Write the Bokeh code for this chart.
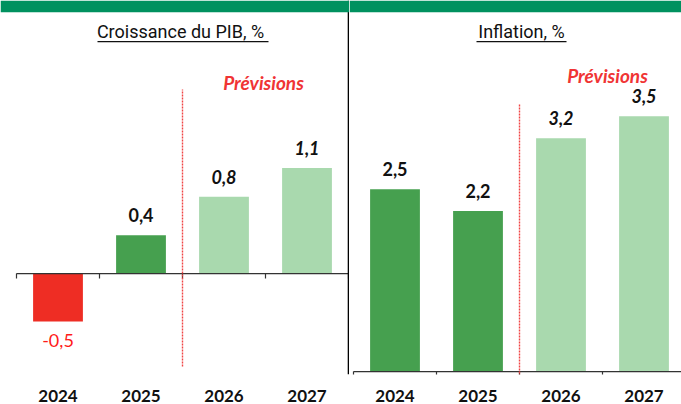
from bokeh.plotting import figure
from bokeh.models import Range1d, FixedTicker, BoxAnnotation, Span, ColumnDataSource
from bokeh.layouts import row
from bokeh.core.properties import value
from bokeh.embed import file_html
from bokeh.resources import INLINE

# ---------------- data ----------------
years = ["2024", "2025", "2026", "2027"]
gdp_growth = [-0.5, 0.4, 0.8, 1.1]
inflation = [2.5, 2.2, 3.2, 3.5]
is_forecast = [False, False, True, True]
title_gdp = "Croissance du PIB, %"
title_infl = "Inflation, %"
forecast_label = "Prévisions"

# ---------------- styles ----------------
RED = "#EE2D24"
DARK_GREEN = "#46A04F"
LIGHT_GREEN = "#A9D9AE"
BAND = "#00915F"
DASH_RED = "#F04545"
FONT = "Lato"
TITLE_FONT = "Roboto"

n = len(years)
centers = [i + 0.5 for i in range(n)]
bounds = list(range(n + 1))
first_fc = is_forecast.index(True)

FIG_H = 404
TOP_PX, BOT_PX = 0, 378
PPC = 83.0  # pixels per category


def bar_colors(vals):
    out = []
    for v, f in zip(vals, is_forecast):
        if f:
            out.append(LIGHT_GREEN)
        elif v < 0:
            out.append(RED)
        else:
            out.append(DARK_GREEN)
    return out


def make_panel(vals, width, ppu, zero_px, x0_px, fig_left_px, title, title_cx_px,
               ul_px, prev_cx_px, prev_base_px, dash_top_px, dash_bot_px, divider):
    yr = Range1d(-(BOT_PX - zero_px) / ppu, (zero_px - TOP_PX) / ppu)
    xr = Range1d((fig_left_px - x0_px) / PPC, (fig_left_px + width - x0_px) / PPC)
    p = figure(width=width, height=FIG_H, x_range=xr, y_range=yr,
               output_backend="svg", toolbar_location=None,
               y_axis_location=None, min_border_left=0, min_border_right=0,
               min_border_top=0, min_border_bottom=FIG_H - BOT_PX)
    p.outline_line_color = None
    p.xgrid.visible = False
    p.ygrid.visible = False
    p.background_fill_color = "white"
    p.border_fill_color = "white"

    ax = p.xaxis[0]
    ax.ticker = FixedTicker(ticks=centers, minor_ticks=[])
    ax.major_label_overrides = {c: y for c, y in zip(centers, years)}
    ax.axis_line_color = None
    ax.major_tick_line_color = None
    ax.minor_tick_line_color = None
    ax.major_label_standoff = 9
    ax.major_label_text_font = FONT
    ax.major_label_text_font_style = "bold"
    ax.major_label_text_font_size = "17px"
    ax.major_label_text_color = "#111111"

    # bars
    src = ColumnDataSource(dict(
        x=centers, top=[max(v, 0) for v in vals], bottom=[min(v, 0) for v in vals],
        color=bar_colors(vals)))
    p.vbar(x="x", width=0.6, top="top", bottom="bottom", fill_color="color",
           line_color=None, source=src)

    # value labels
    pos = [i for i, v in enumerate(vals) if v >= 0]
    neg = [i for i, v in enumerate(vals) if v < 0]
    lab = lambda v: ("%.1f" % v).replace(".", ",")
    if pos:
        s = ColumnDataSource(dict(
            x=[centers[i] for i in pos], y=[vals[i] for i in pos],
            t=[lab(vals[i]) for i in pos],
            st=["bold italic" if is_forecast[i] else "bold" for i in pos]))
        p.text(x="x", y="y", text="t", source=s, y_offset=-20,
               text_align="center", text_baseline="alphabetic",
               text_font=value(FONT), text_font_size=value("18px"),
               text_font_style="st", text_color="#111111")
    if neg:
        s = ColumnDataSource(dict(
            x=[centers[i] for i in neg], y=[vals[i] for i in neg],
            t=[lab(vals[i]) for i in neg]))
        p.text(x="x", y="y", text="t", source=s, y_offset=12,
               text_align="center", text_baseline="top",
               text_font=value(FONT), text_font_size=value("18px"),
               text_font_style="normal", text_color="#FF1A1A")

    # zero axis line with ticks at category boundaries
    p.segment(x0=[bounds[0]], x1=[bounds[-1]], y0=[0], y1=[0],
              line_color="#333333", line_width=1.2)
    p.segment(x0=bounds, x1=bounds, y0=[0] * len(bounds),
              y1=[-5.0 / ppu] * len(bounds), line_color="#333333", line_width=1.2)

    # forecast separator
    p.segment(x0=[first_fc], x1=[first_fc],
              y0=[(zero_px - dash_bot_px) / ppu], y1=[(zero_px - dash_top_px) / ppu],
              line_color=DASH_RED, line_dash="2 1", line_width=1.4)
    p.text(x=[(prev_cx_px - x0_px) / PPC], y=[(zero_px - prev_base_px) / ppu],
           text=[forecast_label], text_align="center", text_baseline="alphabetic",
           text_font=value(FONT), text_font_size=value("19px"),
           text_font_style="bold italic", text_color="#F03434")

    # title with underline
    p.text(x=[(title_cx_px - x0_px) / PPC], y=[(zero_px - 31) / ppu],
           text=[title], text_align="center", text_baseline="alphabetic",
           text_font=value(TITLE_FONT), text_font_size=value("18px"),
           text_font_style="normal", text_color="#111111")
    p.segment(x0=[(ul_px[0] - x0_px) / PPC], x1=[(ul_px[1] - x0_px) / PPC],
              y0=[(zero_px - 41.5) / ppu], y1=[(zero_px - 41.5) / ppu],
              line_color="#111111", line_width=1.3)

    if divider:
        p.add_layout(Span(location=bounds[-1], dimension="height",
                          line_color="black", line_width=1.6))
    p.add_layout(BoxAnnotation(bottom=yr.end - 12.0 / ppu, top=yr.end,
                               left=xr.start, right=xr.end,
                               fill_color=BAND, fill_alpha=1.0, line_alpha=0))
    return p


p1 = make_panel(gdp_growth, 349, 97.0, 276, 16, 0, title_gdp, 180, (97, 268),
                263, 83, 90, 370, True)
p2 = make_panel(inflation, 332, 73.7, 375, 353, 349, title_infl, 521, (476, 566),
                607, 76, 104, 383, False)

p = row(p1, p2)
open("out.html", "w").write(file_html(p, INLINE))
